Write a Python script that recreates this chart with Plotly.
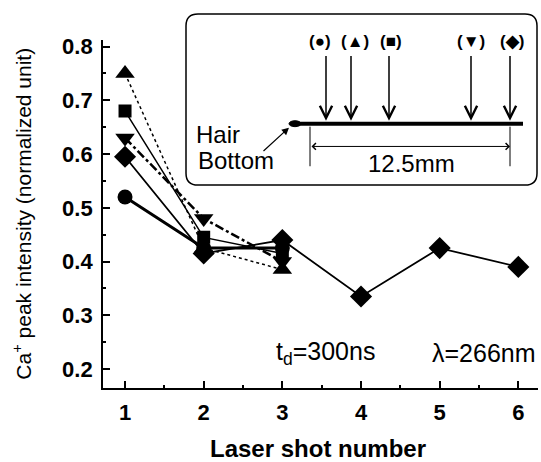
import plotly.graph_objects as go

# ---- data ----
shots_short = [1, 2, 3]
shots_long = [1, 2, 3, 4, 5, 6]
circle_vals = [0.52, 0.425, 0.425]
triangle_vals = [0.75, 0.425, 0.385]
square_vals = [0.68, 0.445, 0.415]
downtri_vals = [0.63, 0.48, 0.40]
diamond_vals = [0.595, 0.415, 0.44, 0.335, 0.425, 0.39]
y_ticks = [0.2, 0.3, 0.4, 0.5, 0.6, 0.7, 0.8]
x_ticks = [1, 2, 3, 4, 5, 6]
position_labels = ["(●)", "(▲)", "(■)", "(▼)", "(◆)"]

W, H = 541, 462
FONT = "Liberation Sans, Arial, sans-serif"

fig = go.Figure()

series = [
    (shots_short, triangle_vals, "triangle-up", 17, "dot", 1.5),
    (shots_short, square_vals, "square", 13, "solid", 1.5),
    (shots_short, downtri_vals, "triangle-down", 17, "dashdot", 2.5),
    (shots_long, diamond_vals, "diamond", 17, "solid", 1.8),
    (shots_short, circle_vals, "circle", 15, "solid", 3),
]
for xs, ys, sym, sz, dash, lw in series:
    fig.add_trace(go.Scatter(
        x=xs, y=ys, mode="lines+markers",
        line=dict(color="black", width=lw, dash=dash),
        marker=dict(symbol=sym, size=sz, color="black"),
        showlegend=False, xaxis="x", yaxis="y"))

# invisible pixel-space overlay axis trace (keeps x2/y2 alive)
fig.add_trace(go.Scatter(x=[0], y=[0], mode="markers", marker=dict(opacity=0),
                         xaxis="x2", yaxis="y2", showlegend=False, hoverinfo="skip"))

left, right, top, bottom = 103, 538, 35, 387
tickfont = dict(size=22, family=FONT, weight="bold")
fig.update_layout(
    width=W, height=H,
    margin=dict(l=0, r=0, t=0, b=0),
    paper_bgcolor="white", plot_bgcolor="rgba(0,0,0,0)",
    font=dict(family=FONT, color="black"),
    xaxis=dict(domain=[left / W, right / W], range=[0.72, 6.25], anchor="y",
               tickvals=x_ticks, ticks="inside", ticklen=7, tickwidth=1.5, tickcolor="black",
               showline=True, linewidth=1.8, linecolor="black",
               showgrid=False, zeroline=False,
               minor=dict(dtick=0.5, tick0=0.5, ticks="inside", ticklen=3, tickcolor="black"),
               tickfont=tickfont, ticklabelstandoff=4),
    yaxis=dict(domain=[(H - bottom) / H, (H - top) / H], range=[0.165, 0.813], anchor="x",
               tickvals=y_ticks, tickformat=".1f", ticks="inside", ticklen=7, tickwidth=1.5,
               tickcolor="black",
               showline=True, linewidth=1.8, linecolor="black",
               showgrid=False, zeroline=False,
               minor=dict(dtick=0.05, tick0=0.15, ticks="inside", ticklen=3, tickcolor="black"),
               tickfont=tickfont, ticklabelstandoff=4),
    xaxis2=dict(domain=[0, 1], range=[0, W], visible=False, fixedrange=True, anchor="y2"),
    yaxis2=dict(domain=[0, 1], range=[H, 0], visible=False, fixedrange=True, anchor="x2"),
)

shapes = []
# rounded inset box
bx0, bx1, by0, by1, r = 186, 537, 9, 182, 12
path = (f"M {bx0+r},{by0} L {bx1-r},{by0} Q {bx1},{by0} {bx1},{by0+r} "
        f"L {bx1},{by1-r} Q {bx1},{by1} {bx1-r},{by1} L {bx0+r},{by1} "
        f"Q {bx0},{by1} {bx0},{by1-r} L {bx0},{by0+r} Q {bx0},{by0} {bx0+r},{by0} Z")
shapes.append(dict(type="path", path=path, xref="x2", yref="y2",
                   line=dict(color="black", width=1.5), fillcolor="white", layer="above"))
# hair
shapes.append(dict(type="line", x0=295, x1=523, y0=120, y1=120, xref="x2", yref="y2",
                   line=dict(color="black", width=4)))
shapes.append(dict(type="circle", x0=289, x1=301, y0=117, y1=123, xref="x2", yref="y2",
                   line=dict(color="black", width=1), fillcolor="black"))
# dimension extension lines
for xx in (310, 510):
    shapes.append(dict(type="line", x0=xx, x1=xx, y0=123, y1=163, xref="x2", yref="y2",
                       line=dict(color="black", width=1)))
fig.update_layout(shapes=shapes)

ann = []
arrow_x = [326, 351, 389, 471, 510]
label_x = [320, 355, 391, 471, 512]
for ax_, lx, lab in zip(arrow_x, label_x, position_labels):
    ann.append(dict(x=ax_, y=117, ax=ax_, ay=50, xref="x2", yref="y2", axref="x2", ayref="y2",
                    text="", showarrow=True, arrowhead=5, arrowsize=1.6, arrowwidth=1.5,
                    arrowcolor="black"))
    ann.append(dict(x=lx, y=37, xref="x2", yref="y2", text=f"<b>{lab}</b>", showarrow=False,
                    font=dict(size=17, family=FONT)))
# hair bottom arrow
ann.append(dict(x=289, y=124, ax=262, ay=149, xref="x2", yref="y2", axref="x2", ayref="y2",
                text="", showarrow=True, arrowhead=2, arrowsize=1.2, arrowwidth=1.2,
                arrowcolor="black"))
# dimension double arrow
ann.append(dict(x=510, y=143, ax=310, ay=143, xref="x2", yref="y2", axref="x2", ayref="y2",
                text="", showarrow=True, arrowhead=4, startarrowhead=4, arrowside="end+start",
                arrowsize=1.3, startarrowsize=1.3, arrowwidth=1, arrowcolor="black"))
ann.append(dict(x=411, y=160, xref="x2", yref="y2", text="12.5mm", showarrow=False,
                font=dict(size=24, family=FONT)))
ann.append(dict(x=194, y=131, xref="x2", yref="y2", text="Hair", showarrow=False,
                xanchor="left", font=dict(size=24, family=FONT)))
ann.append(dict(x=196, y=157, xref="x2", yref="y2", text="Bottom", showarrow=False,
                xanchor="left", font=dict(size=24, family=FONT)))
# plot texts
ann.append(dict(x=325, y=352, xref="x2", yref="y2", text="t<sub>d</sub>=300ns", showarrow=False,
                font=dict(size=25, family=FONT)))
ann.append(dict(x=484, y=352, xref="x2", yref="y2", text="λ=266nm", showarrow=False,
                font=dict(size=25, family=FONT)))
# axis titles
ann.append(dict(x=318, y=448, xref="x2", yref="y2", text="<b>Laser shot number</b>",
                showarrow=False, font=dict(size=24, family=FONT)))
ann.append(dict(x=22, y=211, xref="x2", yref="y2",
                text="Ca<sup>+</sup> peak intensity (normalized unit)", textangle=-90,
                showarrow=False, font=dict(size=21, family=FONT)))
fig.update_layout(annotations=ann)

fig.write_html("out.html", config={"displayModeBar": False},
               post_script="document.body.style.margin='0px';")
